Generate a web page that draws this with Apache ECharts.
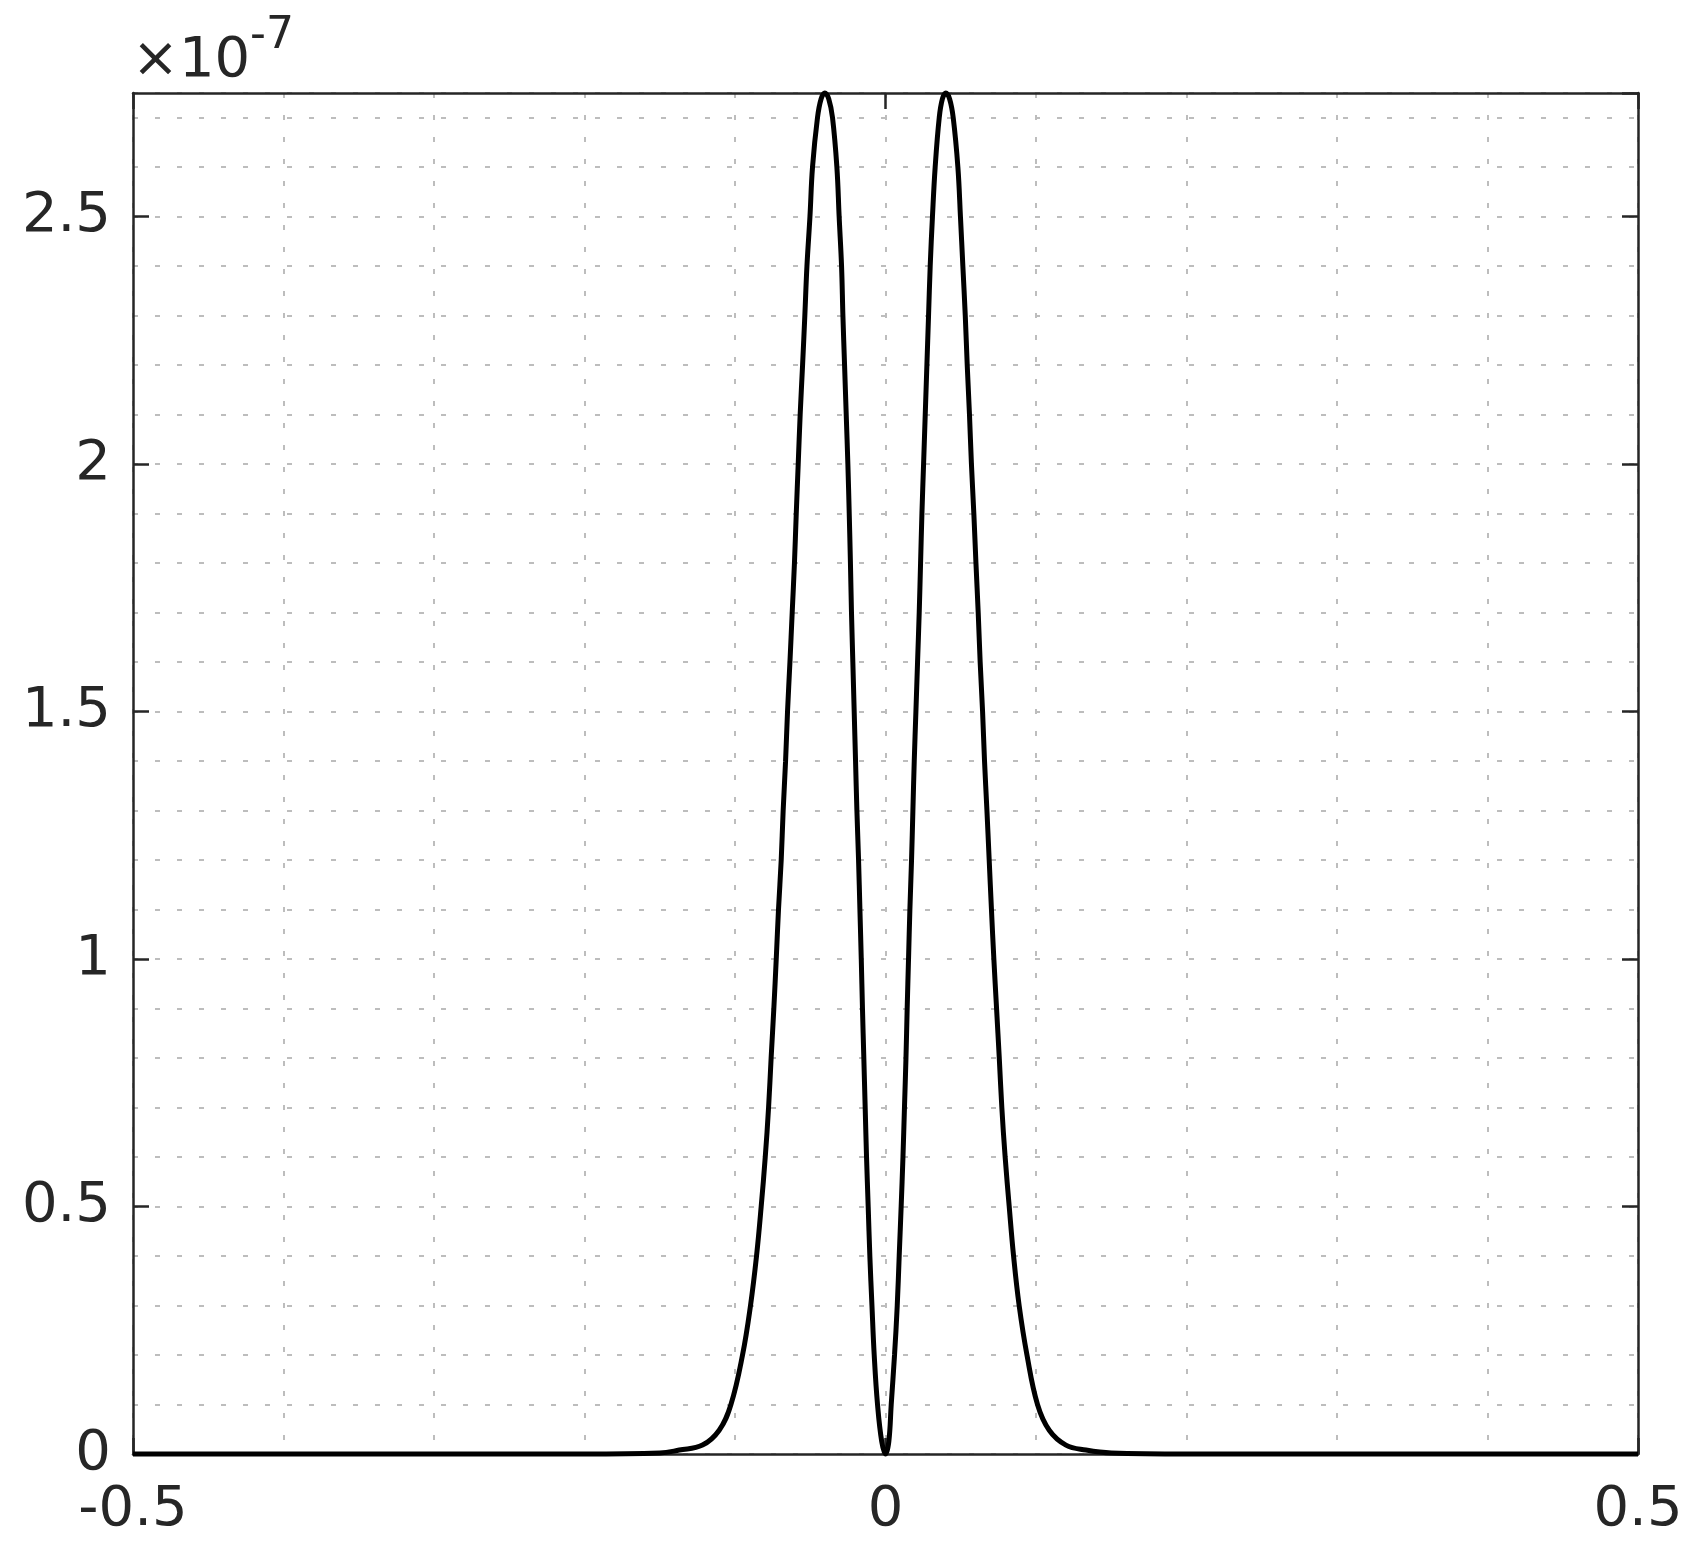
<!DOCTYPE html>
<html>
<head>
<meta charset="utf-8">
<script src="https://cdn.jsdelivr.net/npm/echarts@6/dist/echarts.min.js"></script>
<style>
  html, body { margin: 0; padding: 0; background: #fff; }
  #chart { width: 1706px; height: 1559px; }
</style>
</head>
<body>
<div id="chart"></div>
<script>
// values, y in units of 1e-7
const xValues = [
  -0.5, -0.2, -0.150, -0.137, -0.1216, -0.1105, -0.1027, -0.0950, -0.0897,
  -0.0857, -0.0826, -0.0799, -0.0777, -0.0760, -0.0742, -0.0726, -0.0711, -0.0693, -0.0680,
  -0.0664, -0.0651, -0.0635, -0.0620, -0.0605, -0.0593, -0.0580, -0.0567, -0.0551, -0.0536,
  -0.0522, -0.0502, -0.0485, -0.0452, -0.0428, -0.0403, -0.0377, -0.0352, -0.0323, -0.0308,
  -0.0292, -0.0283, -0.0272, -0.0261, -0.0250, -0.0241, -0.0233, -0.0226, -0.0217, -0.0208,
  -0.0199, -0.0190, -0.0179, -0.0170, -0.0161, -0.0153, -0.0144, -0.0135, -0.0126, -0.0115,
  -0.0104, -0.0090, -0.0075, -0.0053, -0.0025, 0, 0.0022, 0.0038, 0.0060, 0.0078,
  0.0091, 0.0104, 0.0116, 0.0126, 0.0136, 0.0144, 0.0153, 0.0162, 0.0173, 0.0182,
  0.0191, 0.0202, 0.0213, 0.0224, 0.0233, 0.0242, 0.0253, 0.0264, 0.0275, 0.0286,
  0.0297, 0.0312, 0.0330, 0.0357, 0.0378, 0.0401, 0.0426, 0.0450, 0.0481, 0.0498,
  0.0514, 0.0530, 0.0543, 0.0558, 0.0571, 0.0587, 0.0601, 0.0616, 0.0629, 0.0645,
  0.0658, 0.0674, 0.0689, 0.0704, 0.0720, 0.0738, 0.0756, 0.0773, 0.0795, 0.0822,
  0.0851, 0.0888, 0.0940, 0.1010, 0.1088, 0.1199, 0.1332, 0.150, 0.2, 0.5
]
const yValues = [
  0, 0, 0.002, 0.008, 0.018, 0.048, 0.1, 0.2, 0.3,
  0.4, 0.5, 0.6, 0.7, 0.8, 0.9, 1.0, 1.1, 1.2, 1.3,
  1.4, 1.5, 1.6, 1.7, 1.8, 1.9, 2.0, 2.1, 2.2, 2.3,
  2.4, 2.5, 2.6, 2.7, 2.738, 2.75, 2.738, 2.7, 2.6, 2.5,
  2.4, 2.3, 2.2, 2.1, 2.0, 1.9, 1.8, 1.7, 1.6, 1.5,
  1.4, 1.3, 1.2, 1.1, 1.0, 0.9, 0.8, 0.7, 0.6, 0.5,
  0.4, 0.3, 0.2, 0.1, 0.025, 0, 0.025, 0.1, 0.2, 0.3,
  0.4, 0.5, 0.6, 0.7, 0.8, 0.9, 1.0, 1.1, 1.2, 1.3,
  1.4, 1.5, 1.6, 1.7, 1.8, 1.9, 2.0, 2.1, 2.2, 2.3,
  2.4, 2.5, 2.6, 2.7, 2.738, 2.75, 2.738, 2.7, 2.6, 2.5,
  2.4, 2.3, 2.2, 2.1, 2.0, 1.9, 1.8, 1.7, 1.6, 1.5,
  1.4, 1.3, 1.2, 1.1, 1.0, 0.9, 0.8, 0.7, 0.6, 0.5,
  0.4, 0.3, 0.2, 0.1, 0.048, 0.018, 0.008, 0.002, 0, 0
]
const xTickLabels = ['-0.5', '0', '0.5']
const yTickLabels = ['0', '0.5', '1', '1.5', '2', '2.5']
const exponentText = '-7'

const textColor = '#262626'
const font = 'DejaVu Sans'
const gridDash = { color: '#bdbdbd', width: 2, type: [5, 17] }
const boxLine = { show: true, onZero: false, lineStyle: { color: '#262626', width: 2.5 } }
const innerTick = { show: true, inside: true, length: 16, lineStyle: { color: '#262626', width: 2.5 } }
const noLine = { show: false, onZero: false }

const chart = echarts.init(document.getElementById('chart'), null, { renderer: 'canvas' })

const fmt = list => v => {
  const s = String(Math.round(v * 10) / 10)
  return list.includes(s) ? s : ''
}

const option = {
  backgroundColor: '#fff',
  animation: false,
  grid: { left: 133, top: 93, right: 68, bottom: 105, containLabel: false },
  graphic: [
    {
      type: 'text', x: 132, y: 61,
      style: { text: '\u00d710', fontSize: 56, fontFamily: font, fill: textColor, verticalAlign: 'middle' },
    },
    {
      type: 'text', x: 250, y: 37,
      style: { text: exponentText, fontSize: 44, fontFamily: font, fill: textColor, verticalAlign: 'middle' },
    },
  ],
  xAxis: [
    {
      type: 'value', position: 'bottom', min: -0.5, max: 0.5, interval: 0.5,
      axisLine: boxLine, axisTick: innerTick, splitLine: { show: false },
      axisLabel: { color: textColor, fontSize: 56, fontFamily: font, margin: 28, formatter: fmt(xTickLabels) },
    },
    {
      type: 'value', position: 'top', min: -0.5, max: 0.5, interval: 0.5,
      axisLine: boxLine, axisTick: innerTick, splitLine: { show: false }, axisLabel: { show: false },
    },
    {
      type: 'value', position: 'bottom', min: -0.5, max: 0.5, interval: 0.1,
      axisLine: noLine, axisTick: { show: false }, axisLabel: { show: false },
      splitLine: { show: true, lineStyle: gridDash },
    },
  ],
  yAxis: [
    {
      type: 'value', position: 'left', min: 0, max: 2.75, interval: 0.5,
      axisLine: boxLine, axisTick: innerTick, splitLine: { show: false },
      axisLabel: { color: textColor, fontSize: 56, fontFamily: font, margin: 22, showMaxLabel: false, formatter: fmt(yTickLabels) },
    },
    {
      type: 'value', position: 'right', min: 0, max: 2.75, interval: 0.5,
      axisLine: boxLine, axisTick: innerTick, splitLine: { show: false }, axisLabel: { show: false },
    },
    {
      type: 'value', position: 'left', min: 0, max: 2.75, interval: 0.1,
      axisLine: noLine, axisTick: { show: false }, axisLabel: { show: false },
      splitLine: { show: true, lineStyle: gridDash },
    },
  ],
  series: [
    {
      type: 'line',
      xAxisIndex: 0,
      yAxisIndex: 0,
      data: xValues.map((x, i) => [x, yValues[i]]),
      showSymbol: false,
      smooth: 0.4,
      clip: false,
      lineStyle: { color: '#000', width: 5 },
      z: 5,
    },
  ],
}
chart.setOption(option)
</script>
</body>
</html>
